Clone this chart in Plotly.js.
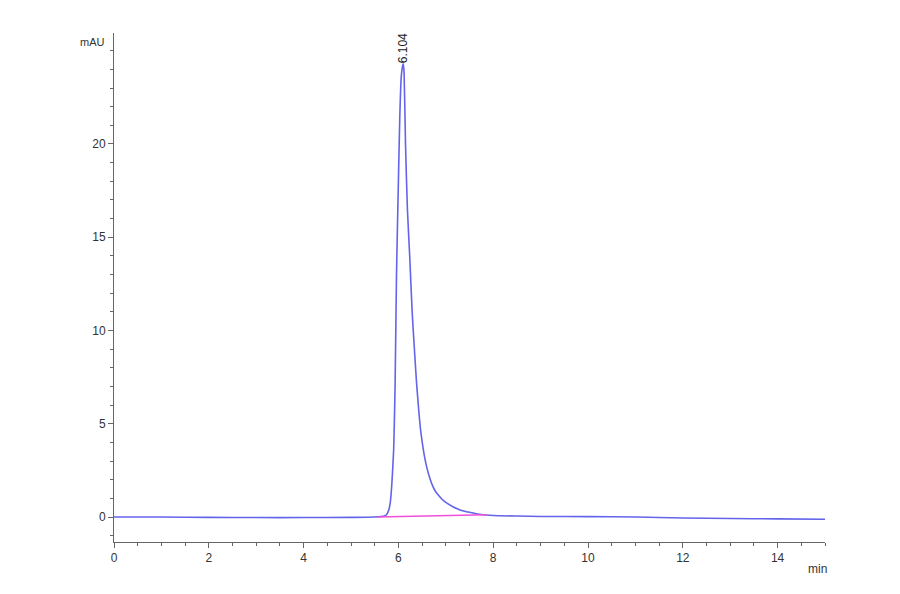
<!DOCTYPE html>
<html>
<head>
<meta charset="utf-8">
<script src="https://cdn.plot.ly/plotly-3.0.1.min.js"></script>
<style>html,body{margin:0;padding:0;background:#fff;}#chart{width:900px;height:594px;}</style>
</head>
<body>
<div id="chart"></div>
<script>
// Chromatogram signal (time in min, absorbance in mAU)
var timeMin = [0, 1, 2, 3, 4, 5, 5.5, 5.7, 5.75, 5.8, 5.83, 5.86, 5.9, 5.93, 5.96, 6.0, 6.03, 6.06, 6.09, 6.104, 6.12, 6.15, 6.19, 6.24, 6.29, 6.34, 6.38, 6.42, 6.46, 6.5, 6.55, 6.6, 6.66, 6.72, 6.78, 6.85, 6.92, 7.0, 7.15, 7.3, 7.5, 7.75, 8.0, 8.5, 9, 10, 11, 12, 13, 14, 15];
var signalMAU = [0.0, 0.0, -0.02, -0.03, -0.03, -0.02, 0.0, 0.05, 0.12, 0.4, 0.8, 1.7, 3.6, 7.0, 13.0, 18.0, 21.5, 23.6, 24.2, 24.3, 23.8, 20.0, 16.5, 13.9, 11.0, 8.9, 7.3, 6.0, 4.85, 4.05, 3.25, 2.65, 2.1, 1.68, 1.38, 1.15, 0.95, 0.78, 0.55, 0.38, 0.25, 0.13, 0.08, 0.05, 0.03, 0.02, 0.0, -0.05, -0.08, -0.1, -0.12];
// Integration baseline
var baseTime = [5.55, 7.86];
var baseMAU = [0.0, 0.12];
// Peak label
var peakTime = 6.104;
var peakLabel = "6.104";
var xTicks = [0, 2, 4, 6, 8, 10, 12, 14];
var yTicks = [0, 5, 10, 15, 20];

var traces = [
  {x: timeMin, y: signalMAU, type: 'scatter', mode: 'lines',
   line: {color: 'rgb(100,100,235)', width: 1.6, shape: 'spline', smoothing: 0.5}, hoverinfo: 'skip'},
  {x: baseTime, y: baseMAU, type: 'scatter', mode: 'lines',
   line: {color: 'rgb(240,80,220)', width: 1.3}, hoverinfo: 'skip'}
];

var axisFont = {family: 'Liberation Sans, Arial, sans-serif', size: 12, color: '#333'};
var layout = {
  width: 900, height: 594,
  margin: {l: 114, r: 75, t: 33, b: 52},
  paper_bgcolor: '#fff', plot_bgcolor: '#fff',
  showlegend: false,
  xaxis: {
    range: [0, 15], tickvals: xTicks, ticktext: xTicks.map(String),
    showgrid: false, zeroline: false, showline: true, linecolor: '#666', linewidth: 1,
    ticks: 'outside', ticklen: 5, tickcolor: '#666', tickfont: axisFont,
    minor: {dtick: 0.5, tick0: 0, ticks: 'outside', ticklen: 3, tickcolor: '#666'}
  },
  yaxis: {
    range: [-1.34, 25.95], tickvals: yTicks, ticktext: yTicks.map(String),
    showgrid: false, zeroline: false, showline: true, linecolor: '#666', linewidth: 1,
    ticks: 'outside', ticklen: 5, tickcolor: '#666', tickfont: axisFont,
    minor: {dtick: 1, tick0: 0, ticks: 'outside', ticklen: 3, tickcolor: '#666'}
  },
  annotations: [
    {xref: 'x', yref: 'y', x: peakTime, y: 25.15, text: peakLabel, showarrow: false,
     textangle: -90, xanchor: 'center', yanchor: 'middle',
     font: {family: 'Liberation Sans, Arial, sans-serif', size: 12, color: '#222'}},
    {xref: 'paper', yref: 'paper', x: -0.01, y: 0.983, xanchor: 'right', yanchor: 'middle',
     text: 'mAU', showarrow: false, font: {family: 'Liberation Sans, Arial, sans-serif', size: 11, color: '#333'}},
    {xref: 'paper', yref: 'paper', x: 0.99, y: -0.035, xanchor: 'center', yanchor: 'top',
     text: 'min', showarrow: false, font: {family: 'Liberation Sans, Arial, sans-serif', size: 12, color: '#333'}}
  ]
};

Plotly.newPlot('chart', traces, layout, {staticPlot: true, displayModeBar: false});
</script>
</body>
</html>
